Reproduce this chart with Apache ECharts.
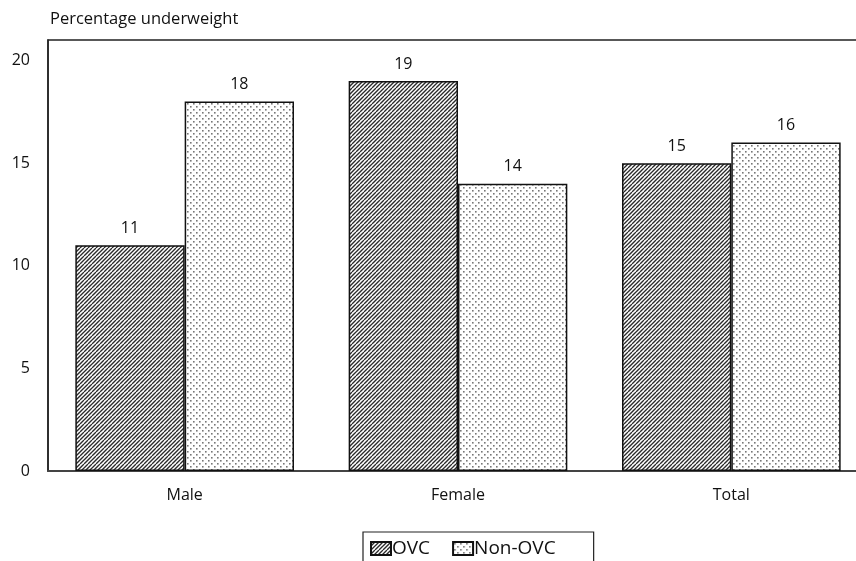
<!DOCTYPE html>
<html><head><meta charset="utf-8">
<script src="https://cdn.jsdelivr.net/npm/echarts@6/dist/echarts.min.js"></script>
<style>html,body{margin:0;padding:0;background:#fff}#c{width:856px;height:561px}</style>
</head><body><div id="c"></div>
<script>
const categories = ['Male', 'Female', 'Total'];
const ovc = [11, 19, 15];
const nonOvc = [18, 14, 16];
const seriesNames = ['OVC', 'Non-OVC'];
const yTitle = 'Percentage underweight';

function hatch() {
  const c = document.createElement('canvas'); c.width = 8; c.height = 8;
  const g = c.getContext('2d');
  g.fillStyle = '#fff'; g.fillRect(0, 0, 8, 8);
  g.strokeStyle = '#2a2a2a'; g.lineWidth = 1.3;
  for (let o = -8; o <= 16; o += 4) { g.beginPath(); g.moveTo(o, 8); g.lineTo(o + 8, 0); g.stroke(); }
  return c;
}
function dots() {
  const c = document.createElement('canvas'); c.width = 6; c.height = 6;
  const g = c.getContext('2d');
  g.fillStyle = '#fff'; g.fillRect(0, 0, 6, 6);
  g.fillStyle = '#777';
  g.fillRect(1, 1, 1.6, 1.6); g.fillRect(4, 4, 1.6, 1.6);
  return c;
}
const FONT = 'Open Sans';
const chart = echarts.init(document.getElementById('c'));
const lbl = { show: true, position: 'top', distance: 9, color: '#111', fontSize: 16, fontFamily: FONT };
chart.setOption({
  animation: false,
  textStyle: { fontFamily: FONT },
  grid: { left: 48, width: 820, top: 40, bottom: 90, outerBoundsMode: 'none', containLabel: false,
          show: true, borderColor: '#222', borderWidth: 1.5, backgroundColor: 'transparent' },
  graphic: [{ type: 'text', left: 50, top: 11, style: { text: yTitle, fontSize: 16.5, fontFamily: FONT, fill: '#111' } }],
  legend: {
    data: seriesNames, left: 363, top: 532, orient: 'horizontal',
    borderColor: '#222', borderWidth: 1.2, padding: [7, 38, 12, 7],
    itemWidth: 20, itemHeight: 13, itemGap: 22, icon: 'rect',
    textStyle: { fontSize: 19, color: '#111', fontFamily: FONT, padding: [0, 0, 0, -4] }
  },
  xAxis: {
    type: 'category', data: categories,
    axisLine: { lineStyle: { color: '#444', width: 2 } },
    axisTick: { show: false },
    axisLabel: { color: '#111', fontSize: 16, margin: 16, fontFamily: FONT }
  },
  yAxis: {
    type: 'value', min: 0, max: 21, interval: 5,
    axisLine: { show: true, lineStyle: { color: '#222', width: 1.5 } },
    axisTick: { show: false }, splitLine: { show: false },
    axisLabel: { color: '#111', fontSize: 16, margin: 18, showMaxLabel: false, fontFamily: FONT }
  },
  series: [
    { name: seriesNames[0], type: 'bar', data: ovc, barGap: '0%', barCategoryGap: '20%',
      itemStyle: { color: { image: hatch(), repeat: 'repeat' }, borderColor: '#111', borderWidth: 1.5 }, label: lbl },
    { name: seriesNames[1], type: 'bar', data: nonOvc,
      itemStyle: { color: { image: dots(), repeat: 'repeat' }, borderColor: '#111', borderWidth: 1.5 }, label: lbl }
  ]
});
</script></body></html>
